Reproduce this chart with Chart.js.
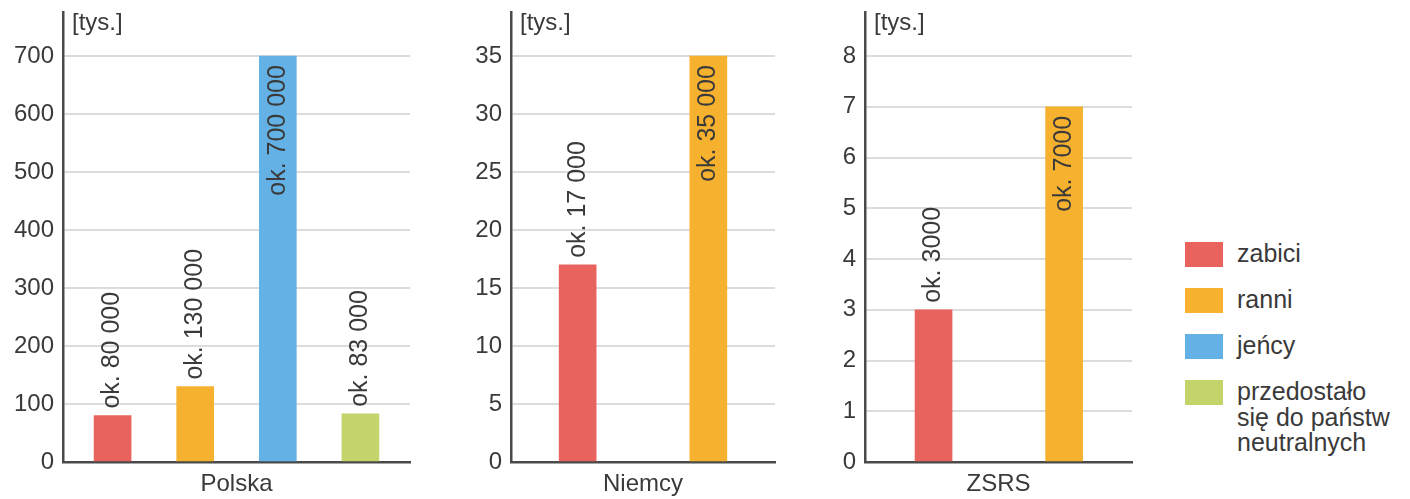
<!DOCTYPE html>
<html lang="pl">
<head>
<meta charset="utf-8">
<title>Straty - Polska, Niemcy, ZSRS</title>
<script src="https://cdn.jsdelivr.net/npm/chart.js@4"></script>
<style>
    html, body { margin: 0; padding: 0; background: #fff; }
    #page { position: relative; width: 1410px; height: 499px; overflow: hidden; }
    .panel { position: absolute; top: 0; height: 499px; }
    #legend {
        position: absolute; left: 1185px; top: 242px;
        font: 25px "Liberation Sans", Arial, sans-serif; color: #3a3a3a;
    }
    .legend-row { display: flex; align-items: flex-start; margin-bottom: 21px; }
    .legend-box { width: 38px; height: 25px; margin-right: 14px; flex: none; }
    .legend-text { line-height: 25.5px; white-space: pre; margin-top: -1px; }
</style>
</head>
<body>
<div id="page">
    <div class="panel" style="left:0;width:430px"><canvas id="polska-canvas"></canvas></div>
    <div class="panel" style="left:440px;width:360px"><canvas id="niemcy-canvas"></canvas></div>
    <div class="panel" style="left:790px;width:360px"><canvas id="zsrs-canvas"></canvas></div>
    <div id="legend"></div>
</div>
<script>
// Categories (legend) and colours
const categories = ['zabici', 'ranni', 'jeńcy', 'przedostało\nsię do państw\nneutralnych'];
const categoryColors = ['#e9635e', '#f6b22f', '#64b1e5', '#c5d46a'];

// Polska [tys.]
const polskaValues = [80, 130, 700, 83];
const polskaLabels = ['ok. 80 000', 'ok. 130 000', 'ok. 700 000', 'ok. 83 000'];
const polskaTicks = [0, 100, 200, 300, 400, 500, 600, 700];

// Niemcy [tys.]
const niemcyValues = [17, 35];
const niemcyLabels = ['ok. 17 000', 'ok. 35 000'];
const niemcyTicks = [0, 5, 10, 15, 20, 25, 30, 35];

// ZSRS [tys.]
const zsrsValues = [3, 7];
const zsrsLabels = ['ok. 3000', 'ok. 7000'];
const zsrsTicks = [0, 1, 2, 3, 4, 5, 6, 7, 8];

const FONT = '"Liberation Sans", Arial, sans-serif';
const TEXT_COLOR = '#3a3a3a';

/**
 * Draws the rotated value labels and the "[tys.]" unit text
 */
const barLabelPlugin = {
    id: 'barLabels',
    afterDatasetsDraw(chart, args, opts) {
        const ctx = chart.ctx;
        const area = chart.chartArea;
        const meta = chart.getDatasetMeta(0);
        ctx.save();
        ctx.font = '25px ' + FONT;
        ctx.fillStyle = TEXT_COLOR;
        ctx.textBaseline = 'middle';
        meta.data.forEach((bar, i) => {
            const text = opts.labels[i];
            const w = ctx.measureText(text).width;
            // label goes inside the bar when it does not fit above it
            const inside = bar.y - area.top < w + 14;
            ctx.save();
            ctx.translate(bar.x, inside ? bar.y + 9 : bar.y - 7);
            ctx.rotate(-Math.PI / 2);
            ctx.textAlign = inside ? 'right' : 'left';
            ctx.fillText(text, 0, 0);
            ctx.restore();
        });
        ctx.font = '24px ' + FONT;
        ctx.textAlign = 'left';
        ctx.fillText('[tys.]', area.left + 9, 23);
        ctx.restore();
    }
};

/**
 * Build one country panel
 */
function makePanel(canvasId, title, values, labels, ticks, opts) {
    const ctx = document.getElementById(canvasId).getContext('2d');
    return new Chart(ctx, {
        type: 'bar',
        data: {
            datasets: [{
                data: values.map((v, i) => ({ x: i, y: v })),
                backgroundColor: categoryColors.slice(0, values.length),
                barThickness: 37,
                borderWidth: 0
            }]
        },
        options: {
            responsive: true,
            maintainAspectRatio: false,
            animation: false,
            layout: { padding: { top: 12, right: opts.padRight, left: 0, bottom: 0 } },
            plugins: {
                legend: { display: false },
                tooltip: { enabled: false },
                barLabels: { labels: labels }
            },
            scales: {
                x: {
                    type: 'linear',
                    min: opts.xMin,
                    max: opts.xMax,
                    offset: false,
                    grid: { display: false },
                    border: { display: true, color: '#4a4a4a', width: 2.5 },
                    ticks: { display: false },
                    title: {
                        display: true,
                        text: title,
                        color: TEXT_COLOR,
                        font: { family: FONT, size: 24 },
                        padding: { top: 0, bottom: 0 }
                    },
                    afterFit(scale) {
                        scale.height = 37;
                        scale.paddingLeft = 0;
                        scale.paddingRight = 0;
                    }
                },
                y: {
                    min: 0,
                    max: opts.yMax,
                    grid: { color: '#dcdcdc', lineWidth: 2, drawTicks: false },
                    border: { display: true, color: '#4a4a4a', width: 2.5 },
                    ticks: {
                        color: TEXT_COLOR,
                        font: { family: FONT, size: 24 },
                        padding: 9
                    },
                    afterBuildTicks(scale) { scale.ticks = ticks.map(v => ({ value: v })); },
                    afterFit(scale) {
                        scale.width = opts.axisWidth;
                        scale.paddingTop = 0;
                        scale.paddingBottom = 0;
                    }
                }
            }
        },
        plugins: [barLabelPlugin]
    });
}

function buildLegend() {
    const legend = document.getElementById('legend');
    categories.forEach((name, i) => {
        const row = document.createElement('div');
        row.className = 'legend-row';
        row.innerHTML = `<div class="legend-box" style="background:${categoryColors[i]}"></div>` +
                        `<div class="legend-text">${name}</div>`;
        legend.appendChild(row);
    });
}

makePanel('polska-canvas', 'Polska', polskaValues, polskaLabels, polskaTicks,
    { axisWidth: 63, padRight: 20, xMin: -0.6, xMax: 3.6, yMax: 776 });
makePanel('niemcy-canvas', 'Niemcy', niemcyValues, niemcyLabels, niemcyTicks,
    { axisWidth: 71, padRight: 25, xMin: -0.51, xMax: 1.51, yMax: 38.8 });
makePanel('zsrs-canvas', 'ZSRS', zsrsValues, zsrsLabels, zsrsTicks,
    { axisWidth: 75, padRight: 18, xMin: -0.525, xMax: 1.52, yMax: 8.87 });
buildLegend();
</script>
</body>
</html>
